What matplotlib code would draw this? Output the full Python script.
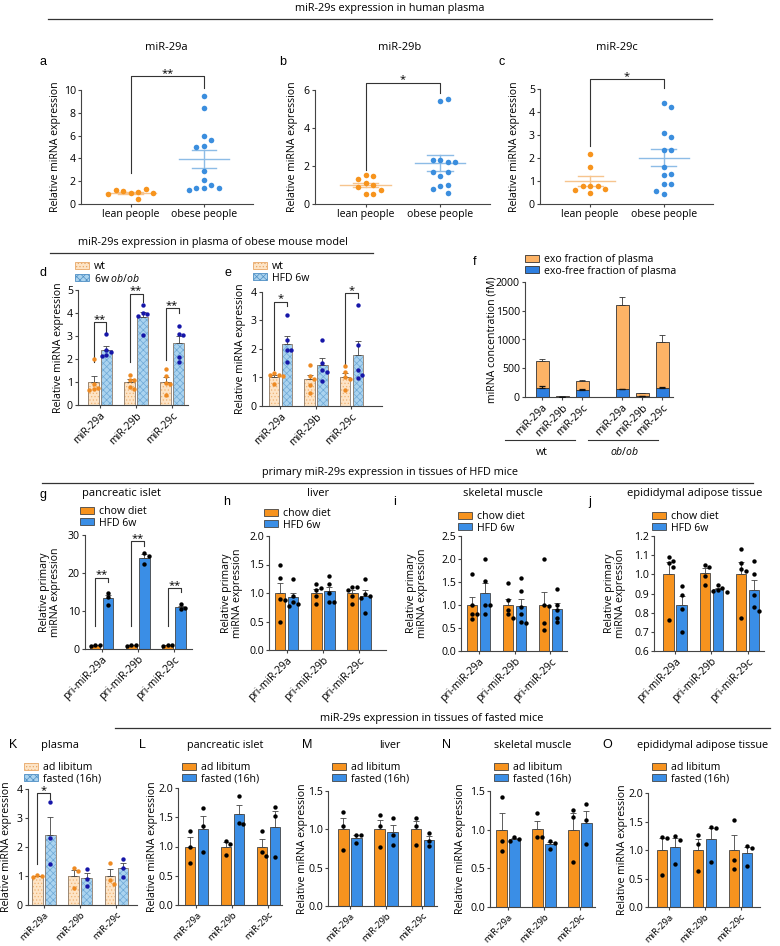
import numpy as np
import matplotlib
matplotlib.use("Agg")
import matplotlib.pyplot as plt
from matplotlib.patches import Patch
from matplotlib.lines import Line2D

# ---- dados ----

# a, b, c - plasma humano
pessoas = ['lean people', 'obese people']
lean_29a = [1.0, 1.05, 1.1, 1.3, 1.25, 0.95, 0.9, 0.4]
obese_29a = [9.5, 8.4, 6.0, 5.6, 5.1, 5.0, 2.9, 2.1, 1.7, 1.4, 1.4, 1.4, 1.2]
lean_29b = [1.5, 1.45, 1.3, 1.1, 1.0, 0.9, 0.75, 0.5, 0.5]
obese_29b = [5.4, 5.5, 2.3, 2.2, 2.3, 2.2, 1.45, 1.7, 1.7, 0.95, 1.0, 0.8, 0.6]
lean_29c = [2.17, 1.62, 0.8, 0.78, 0.8, 0.66, 0.62, 0.46]
obese_29c = [4.4, 4.2, 3.1, 2.9, 2.35, 2.35, 1.6, 1.3, 1.25, 0.85, 0.85, 0.55, 0.45]

mirs = ['miR-29a', 'miR-29b', 'miR-29c']
pri_mirs = ['pri-miR-29a', 'pri-miR-29b', 'pri-miR-29c']

# d - ob/ob
d_wt = [[2.0, 0.9, 0.75, 0.7, 0.65], [1.3, 1.1, 1.1, 0.8, 0.7], [1.55, 1.25, 0.95, 0.9, 0.45]]
d_ob = [[3.07, 2.4, 2.3, 2.16, 2.13], [4.35, 4.0, 3.95, 3.85, 3.05], [3.45, 3.1, 3.05, 2.1, 1.85]]
# e - HFD
e_wt = [[1.15, 1.1, 1.08, 1.05, 0.78], [1.45, 1.05, 0.95, 0.75, 0.45], [1.4, 1.2, 1.0, 0.95, 0.55]]
e_hfd = [[3.2, 2.3, 1.95, 1.95, 1.55], [2.33, 1.5, 1.25, 1.2, 0.87], [3.55, 2.15, 1.25, 1.1, 0.98]]

# f - concentracao (fM)
f_grupos = ['wt', 'ob/ob']
f_total = [625, 15, 285, 1600, 65, 960]
f_total_err = [35, 5, 15, 140, 10, 115]
f_livre = [165, 5, 130, 135, 10, 165]
f_livre_err = [20, 2, 10, 10, 3, 10]

# g-j - primarios, chow x HFD
g_chow = [[1.1, 1.0, 0.9], [1.1, 1.0, 0.9], [1.1, 1.0, 0.9]]
g_hfd = [[14.8, 13.6, 11.5], [25.3, 24.5, 22.4], [11.8, 10.7, 10.5]]
h_chow = [[1.49, 1.27, 0.9, 0.88, 0.5], [1.15, 1.08, 1.05, 0.95, 0.8], [1.1, 1.1, 1.05, 0.95, 0.8]]
h_hfd = [[1.24, 0.95, 0.85, 0.8, 0.78], [1.29, 1.15, 1.0, 0.85, 0.85], [1.25, 0.98, 0.95, 0.92, 0.65]]
i_chow = [[1.68, 1.0, 0.8, 0.8, 0.7], [1.48, 1.1, 0.9, 0.8, 0.72], [2.0, 1.0, 0.98, 0.6, 0.45]]
i_hfd = [[2.0, 1.52, 1.0, 1.0, 0.8], [1.58, 1.3, 0.95, 0.8, 0.62, 0.6], [1.35, 1.0, 0.9, 0.72, 0.62]]
j_chow = [[1.09, 1.07, 1.06, 1.04, 0.76], [1.05, 1.04, 0.99, 0.945], [1.13, 1.06, 1.03, 1.02, 0.77]]
j_hfd = [[0.94, 0.89, 0.82, 0.7], [0.945, 0.93, 0.92, 0.915, 0.91], [1.07, 1.0, 0.89, 0.83, 0.81]]

# K-O - jejum
k_ad = [[1.02, 1.0, 0.98], [1.27, 1.17, 0.57], [1.45, 0.85, 0.72]]
k_fast = [[3.55, 2.3, 1.42], [1.25, 0.88, 0.67], [1.6, 1.27, 0.95]]
l_ad = [[1.27, 1.0, 0.72], [1.1, 1.05, 0.85], [1.27, 0.9, 0.83]]
l_fast = [[1.66, 1.35, 0.9], [1.87, 1.4, 1.38], [1.67, 1.52, 0.82]]
m_ad = [[1.22, 1.05, 0.73], [1.19, 1.05, 0.77], [1.15, 1.05, 0.8]]
m_fast = [[0.93, 0.92, 0.82], [1.15, 0.93, 0.8], [0.95, 0.85, 0.78]]
n_ad = [[1.42, 0.85, 0.73], [1.21, 0.9, 0.9], [1.25, 1.17, 0.58]]
n_fast = [[0.9, 0.88, 0.85], [0.85, 0.83, 0.75], [1.33, 1.12, 0.82]]
o_ad = [[1.22, 1.21, 0.57], [1.26, 1.11, 0.63], [1.52, 0.82, 0.66]]
o_fast = [[1.24, 1.18, 0.76], [1.4, 1.38, 0.79], [1.07, 1.04, 0.72]]

# ---- estilo ----
FS = 7.6
plt.rcParams['font.family'] = ['Open Sans', 'DejaVu Sans']
plt.rcParams['font.size'] = FS
plt.rcParams['mathtext.fontset'] = 'custom'
plt.rcParams['mathtext.it'] = 'Open Sans:italic'
plt.rcParams['mathtext.rm'] = 'Open Sans'
plt.rcParams['hatch.linewidth'] = 0.5

laranja = '#F7941D'
azul = '#3B8EDE'
laranja_claro = '#F6C48E'
azul_claro = '#8DBCE6'
bar_lar = '#F7931E'
bar_azul = '#3A8EE6'
pessego = '#FDE4C6'
azul_hach = '#AAD3EF'
cinza = '#444444'

W, H = 780, 946
fig = plt.figure(figsize=(W / 100, H / 100), dpi=100)


def eixo(l, t, r, b):
    ax = fig.add_axes([l / W, 1 - b / H, (r - l) / W, (b - t) / H])
    for s in ['top', 'right']:
        ax.spines[s].set_visible(False)
    for s in ['left', 'bottom']:
        ax.spines[s].set_linewidth(0.8)
        ax.spines[s].set_color(cinza)
    ax.tick_params(length=2.5, width=0.8, color=cinza, labelsize=FS, pad=1.2)
    ax.patch.set_alpha(0)
    return ax


def texto(x, y, s, **kw):
    kw.setdefault('fontsize', FS)
    fig.text(x / W, 1 - y / H, s, ha='center', va='center', **kw)


def letra(x, y, s):
    fig.text(x / W, 1 - y / H, s, ha='center', va='center', fontsize=9, family='Liberation Sans')


def ylab(ax, s, x):
    b = ax.get_position()
    fig.text(x / W, b.y0 + b.height / 2, s, rotation=90, ha='center', va='center',
             fontsize=FS, multialignment='center', linespacing=1.05)


def secao(titulo, xt, yt, x1, x2, yl):
    texto(xt, yt, titulo, fontsize=7.8)
    fig.add_artist(Line2D([x1 / W, x2 / W], [1 - yl / H, 1 - yl / H], color='#333333', lw=0.9))


def swarm(ax, xc, vals, r):
    # espalha os pontos na horizontal quando se sobrepoem (em pixels)
    pts = ax.transData.transform(np.column_stack([np.full(len(vals), xc), vals]))
    feitos = []
    for px0, py in pts:
        for k in [0, 1, -1, 2, -2, 3, -3, 4, -4]:
            cx = px0 + k * r
            if all((cx - qx) ** 2 + (py - qy) ** 2 >= (0.95 * r) ** 2 for qx, qy in feitos):
                break
        feitos.append((cx, py))
    xs = np.array([p[0] for p in feitos])
    back = ax.transData.inverted().transform(np.column_stack([xs, pts[:, 1]]))
    return back[:, 0]


def colchete(ax, x1, x2, y1, ytop, y2, txt):
    ax.plot([x1, x1, x2, x2], [y1, ytop, ytop, y2], color='#333333', lw=0.8, clip_on=False)
    ax.annotate(txt, xy=((x1 + x2) / 2, ytop), xytext=(0, 0.3), textcoords='offset points',
                ha='center', va='baseline', fontsize=8, annotation_clip=False)


def legenda(handles, labels, x, y):
    fig.legend(handles, labels, loc='upper left', bbox_to_anchor=(x / W, 1 - y / H),
               frameon=False, fontsize=FS, handlelength=1.3, handleheight=0.6,
               handletextpad=0.5, labelspacing=0.05, borderpad=0, borderaxespad=0)


def painel_pontos(ax, lean, obese, ymax, passo):
    ax.set_xlim(-0.68, 1.67)
    ax.set_ylim(0, ymax)
    ax.set_yticks(np.arange(0, ymax + 0.01, passo))
    ax.set_xticks([0, 1])
    ax.set_xticklabels(pessoas)
    for i, (vals, cor, cm) in enumerate([(lean, laranja, laranja_claro), (obese, azul, azul_claro)]):
        vals = np.array(vals)
        m = vals.mean()
        e = vals.std(ddof=1) / np.sqrt(len(vals))
        ax.plot([i - 0.34, i + 0.34], [m, m], color=cm, lw=1, zorder=2)
        ax.plot([i - 0.17, i + 0.17], [m + e, m + e], color=cm, lw=1, zorder=2)
        ax.plot([i - 0.17, i + 0.17], [m - e, m - e], color=cm, lw=1, zorder=2)
        ax.plot([i, i], [m - e, m + e], color=cm, lw=1, zorder=2)
        xs = swarm(ax, i, vals, 7.5)
        ax.scatter(xs, vals, s=16, color=cor, zorder=3, linewidths=0, clip_on=False)


def barras(ax, d1, d2, xlim, ylim, ticks, labels, c1, c2, pc1='k', pc2='k', hach=False, fx=FS):
    ax.set_xlim(*xlim)
    ax.set_ylim(*ylim)
    ax.set_yticks(ticks)
    x = np.arange(len(d1))
    ax.set_xticks(x)
    ax.set_xticklabels(labels, rotation=45, ha='right', rotation_mode='anchor', fontsize=fx)
    larg, desl = 0.29, 0.18
    for dados, off, cor, hc, h, pc in [(d1, -desl, c1, '#F0B476', '.....', pc1),
                                      (d2, desl, c2, '#6FA9D6', 'xxxxx', pc2)]:
        medias = np.array([np.mean(v) for v in dados])
        erros = np.array([np.std(v, ddof=1) / np.sqrt(len(v)) for v in dados])
        base = ylim[0]
        if hach:
            ax.bar(x + off, medias - base, larg, bottom=base, color=cor, edgecolor=hc, hatch=h, linewidth=0, zorder=2)
            ax.bar(x + off, medias - base, larg, bottom=base, fill=False, edgecolor='#8c7b6b', linewidth=0.6, zorder=3)
        else:
            ax.bar(x + off, medias - base, larg, bottom=base, color=cor, edgecolor=cinza, linewidth=0.6, zorder=2)
        ax.errorbar(x + off, medias, yerr=[np.zeros(len(x)), erros], fmt='none', ecolor=cinza,
                    elinewidth=0.6, capsize=2, capthick=0.6, zorder=3)
        for k, v in enumerate(dados):
            xs = swarm(ax, x[k] + off, v, 4.5)
            ax.scatter(xs, v, s=10, color=pc, zorder=4, linewidths=0)
    return desl


# ---- linha 1: plasma humano ----
secao('miR-29s expression in human plasma', 390, 8, 48, 712, 19)

ax = eixo(81, 90, 253, 204)
painel_pontos(ax, lean_29a, obese_29a, 10, 2)
colchete(ax, 0, 1, 2.7, 11.2, 10.2, '**')
ylab(ax, 'Relative miRNA expression', 56)
texto(166, 48, 'miR-29a', fontsize=8)
letra(43, 62, 'a')

ax = eixo(315, 90, 490, 204)
painel_pontos(ax, lean_29b, obese_29b, 6, 2)
colchete(ax, 0, 1, 1.8, 6.37, 5.85, '*')
ylab(ax, 'Relative miRNA expression', 292)
texto(400, 48, 'miR-29b', fontsize=8)
letra(283, 62, 'b')

ax = eixo(540, 89, 713, 204)
painel_pontos(ax, lean_29c, obese_29c, 5, 1)
colchete(ax, 0, 1, 2.5, 5.43, 5.04, '*')
ylab(ax, 'Relative miRNA expression', 515)
texto(617, 48, 'miR-29c', fontsize=8)
letra(502, 62, 'c')

# ---- linha 2: modelo de camundongo obeso ----
secao('miR-29s expression in plasma of obese mouse model', 213, 243, 50, 373, 253)

hach_wt = Patch(facecolor=pessego, edgecolor='#E8A868', hatch='.....', lw=0.6)
hach_az = Patch(facecolor=azul_hach, edgecolor='#4F8FC4', hatch='xxxxx', lw=0.6)

ax = eixo(78, 290, 188, 405)
s = barras(ax, d_wt, d_ob, (-0.61, 2.44), (0, 5), range(6), mirs, pessego, azul_hach,
           '#EE8A22', '#1616A8', hach=True)
colchete(ax, 0 - s, 0 + s, 1.87, 3.6, 3.1, '**')
colchete(ax, 1 - s, 1 + s, 1.85, 4.83, 4.5, '**')
colchete(ax, 2 - s, 2 + s, 1.95, 4.2, 4.0, '**')
ylab(ax, 'Relative miRNA expression', 59)
legenda([hach_wt, hach_az], ['wt', r'6w $\it{ob/ob}$'], 75, 261)
letra(43, 273, 'd')

ax = eixo(262, 292, 382, 406)
s = barras(ax, e_wt, e_hfd, (-0.52, 2.86), (0, 4), range(5), mirs, pessego, azul_hach,
           '#EE8A22', '#1616A8', hach=True)
colchete(ax, 0 - s, 0 + s, 1.25, 3.65, 3.5, '*')
colchete(ax, 2 - s, 2 + s, 1.45, 3.95, 3.8, '*')
ylab(ax, 'Relative miRNA expression', 240)
legenda([hach_wt, hach_az], ['wt', 'HFD 6w'], 253, 261)
letra(228, 273, 'e')

# f - barras empilhadas
ax = eixo(525, 282, 673, 397)
xf = np.array([0, 1, 2, 4, 5, 6])
exo = np.array(f_total) - np.array(f_livre)
ax.bar(xf, f_livre, 0.65, color='#2E7FE0', edgecolor='#333333', linewidth=0.6, zorder=2)
ax.bar(xf, exo, 0.65, bottom=f_livre, color='#FDB366', edgecolor='#333333', linewidth=0.6, zorder=2)
ax.errorbar(xf, f_total, yerr=[np.zeros(6), f_total_err], fmt='none', ecolor='#333333',
            elinewidth=0.6, capsize=2, capthick=0.6, zorder=3)
ax.errorbar(xf, f_livre, yerr=[np.zeros(6), f_livre_err], fmt='none', ecolor='#111111',
            elinewidth=0.9, capsize=2, capthick=0.9, zorder=3)
ax.set_xlim(-0.85, 6.55)
ax.set_ylim(0, 2000)
ax.set_yticks([0, 500, 1000, 1500, 2000])
ax.set_xticks(xf)
ax.set_xticklabels(mirs * 2, rotation=45, ha='right', rotation_mode='anchor')
trans = ax.get_xaxis_transform()
ax.plot([-1.85, 1.65], [-0.374, -0.374], color='#333333', lw=0.8, transform=trans, clip_on=False)
ax.plot([2.3, 5.8], [-0.374, -0.374], color='#333333', lw=0.8, transform=trans, clip_on=False)
ax.text(0, -0.48, f_grupos[0], transform=trans, ha='center', va='center', fontsize=FS)
ax.text(4.15, -0.48, r'$\it{ob/ob}$', transform=trans, ha='center', va='center', fontsize=FS)
ylab(ax, 'miRNA concentration (fM)', 492)
legenda([Patch(facecolor='#FDB366', edgecolor='#333333', lw=0.6),
         Patch(facecolor='#2E7FE0', edgecolor='#333333', lw=0.6)],
        ['exo fraction of plasma', 'exo-free fraction of plasma'], 525, 254)
letra(475, 262, 'f')

# ---- linha 3: tecidos de camundongos HFD ----
secao('primary miR-29s expression in tissues of HFD mice', 390, 472, 42, 753, 483)

sol_lar = Patch(facecolor=bar_lar, edgecolor=cinza, lw=0.6)
sol_az = Patch(facecolor=bar_azul, edgecolor=cinza, lw=0.6)
ylab_pri = 'Relative primary\nmiRNA expression'

ax = eixo(85, 535, 192, 649)
s = barras(ax, g_chow, g_hfd, (-0.46, 2.49), (0, 30), [0, 10, 20, 30], pri_mirs, bar_lar, bar_azul)
colchete(ax, 0 - s, 0 + s, 6, 18.7, 17.6, '**')
colchete(ax, 1 - s, 1 + s, 6, 28.4, 27.1, '**')
colchete(ax, 2 - s, 2 + s, 6, 16, 15, '**')
ylab(ax, ylab_pri, 50)
legenda([sol_lar, sol_az], ['chow diet', 'HFD 6w'], 80, 506)
texto(122, 493, 'pancreatic islet', fontsize=8)
letra(43, 495, 'g')

ax = eixo(269, 536, 386, 650)
barras(ax, h_chow, h_hfd, (-0.49, 2.75), (0, 2), [0, 0.5, 1.0, 1.5, 2.0], pri_mirs, bar_lar, bar_azul)
ylab(ax, ylab_pri, 232)
legenda([sol_lar, sol_az], ['chow diet', 'HFD 6w'], 264, 508)
texto(318, 493, 'liver', fontsize=8)
letra(227, 502, 'h')

ax = eixo(461, 536, 567, 651)
barras(ax, i_chow, i_hfd, (-0.49, 2.46), (0, 2.5), [0, 0.5, 1.0, 1.5, 2.0, 2.5], pri_mirs, bar_lar, bar_azul)
ylab(ax, ylab_pri, 417)
legenda([sol_lar, sol_az], ['chow diet', 'HFD 6w'], 458, 511)
texto(503, 493, 'skeletal muscle', fontsize=8)
letra(395, 502, 'i')

ax = eixo(654, 536, 764, 651)
barras(ax, j_chow, j_hfd, (-0.58, 2.45), (0.6, 1.2), np.round(np.arange(0.6, 1.21, 0.1), 1),
       pri_mirs, bar_lar, bar_azul)
ylab(ax, ylab_pri, 615)
legenda([sol_lar, sol_az], ['chow diet', 'HFD 6w'], 652, 511)
texto(695, 493, 'epididymal adipose tissue', fontsize=8)
letra(590, 502, 'j')

# ---- linha 4: camundongos em jejum ----
secao('miR-29s expression in tissues of fasted mice', 432, 719, 115, 770, 728)

leg_jejum = ['ad libitum', 'fasted (16h)']
fx_baixo = 6.8  # rotulos da ultima linha um pouco menores para caber na figura
sobe = 4        # ultima linha um pouco mais alta

ax = eixo(28, 793 - sobe, 137, 909 - sobe)
s = barras(ax, k_ad, k_fast, (-0.44, 2.57), (0, 4), range(5), mirs, pessego, azul_hach,
           '#EE8A22', '#1616A8', hach=True, fx=fx_baixo)
colchete(ax, 0 - s, 0 + s, 1.4, 3.85, 3.65, '*')
ylab(ax, 'Relative miRNA expression', 7)
legenda([hach_wt, hach_az], leg_jejum, 24, 762)
texto(60, 745, 'plasma', fontsize=8)
letra(13, 745, 'K')

paineis = [
    (l_ad, l_fast, (178, 792, 282, 909), (-0.51, 2.375), (0, 2), 152, 225, 'pancreatic islet', 'L', 142),
    (m_ad, m_fast, (328, 795, 437, 910), (-0.6, 2.4), (0, 1.5), 302, 390, 'liver', 'M', 307),
    (n_ad, n_fast, (490, 795, 595, 911), (-0.5, 2.42), (0, 1.5), 461, 533, 'skeletal muscle', 'N', 447),
    (o_ad, o_fast, (648, 797, 760, 911), (-0.57, 2.54), (0, 2), 623, 703, 'epididymal adipose tissue', 'O', 607),
]
for ad, fast, caixa, xl, yl, xlab, xt, titulo, let, xletra in paineis:
    l, t, r, b = caixa
    ax = eixo(l, t - sobe, r, b - sobe)
    barras(ax, ad, fast, xl, yl, np.arange(0, yl[1] + 0.01, 0.5), mirs, bar_lar, bar_azul, fx=fx_baixo)
    ylab(ax, 'Relative miRNA expression', xlab)
    legenda([sol_lar, sol_az], leg_jejum, l + 4, 762)
    texto(xt, 745, titulo, fontsize=7.8)
    letra(xletra, 745, let)

fig.savefig('out.png', dpi=100)
